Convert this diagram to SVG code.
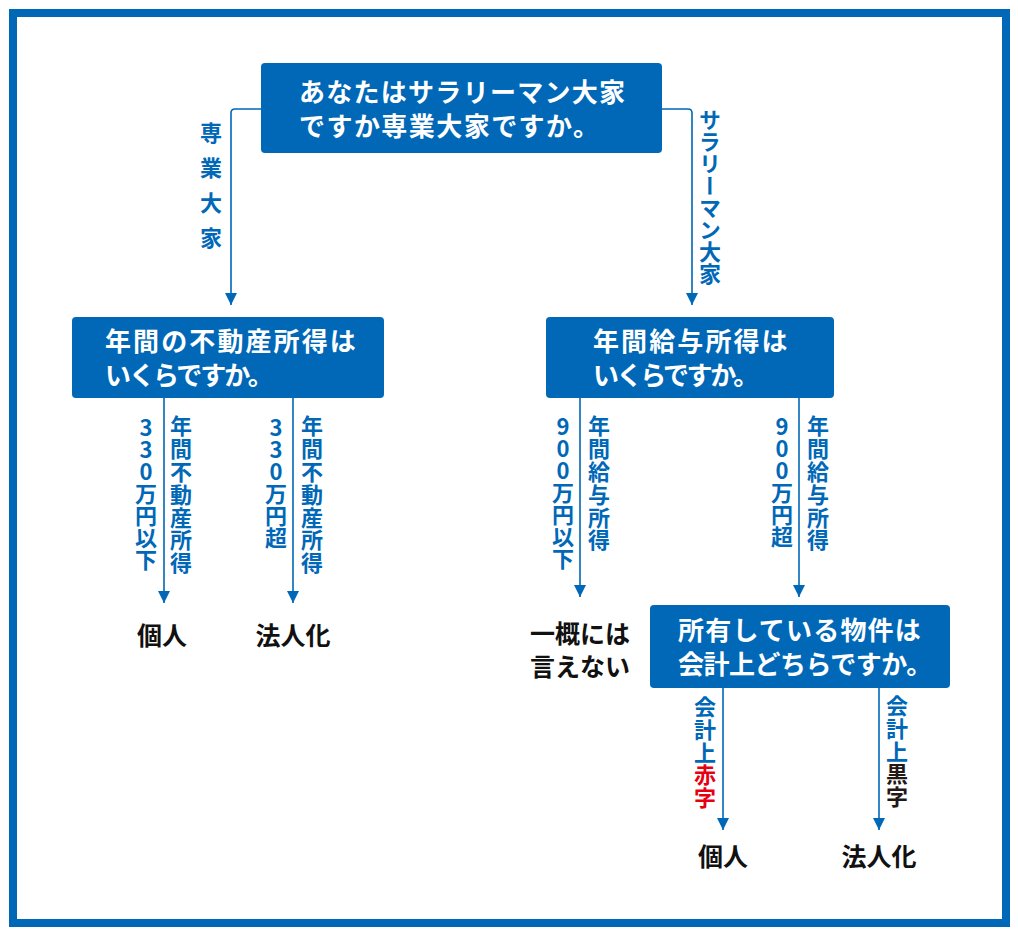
<svg xmlns="http://www.w3.org/2000/svg" width="1018" height="935" viewBox="0 0 1018 935">
<style>
.frame{fill:none;stroke:#0068b7;stroke-width:8}
.box{fill:#0068b7}
.bt{font-family:"Noto Sans CJK JP","Noto Sans CJK SC",sans-serif;font-weight:700;font-size:26px;fill:#ffffff}
.leaf{font-family:"Noto Sans CJK JP","Noto Sans CJK SC",sans-serif;font-weight:700;font-size:25px;fill:#111111;text-anchor:middle}
.lbl{font-family:"Noto Sans CJK JP","Noto Sans CJK SC",sans-serif;font-weight:700;font-size:22px;fill:#0068b7;writing-mode:vertical-rl;text-orientation:upright;letter-spacing:0.8px}
.conn{fill:none;stroke:#0068b7;stroke-width:1.6}
</style>
<defs>
<marker id="arr" viewBox="0 0 12 12" refX="12" refY="6" markerWidth="12" markerHeight="12" markerUnits="userSpaceOnUse" orient="auto">
<path d="M0,0 L12,6 L0,12 z" fill="#0068b7"/>
</marker>
</defs>
<rect x="0" y="0" width="1018" height="935" fill="#ffffff"/>
<rect class="frame" x="13" y="13" width="993" height="910"/>

<g id="connectors">
<path class="conn" d="M261,109 H235 Q231,109 231,113 V305" marker-end="url(#arr)"/>
<path class="conn" d="M662,109 H688 Q692,109 692,113 V305" marker-end="url(#arr)"/>
<path class="conn" d="M164,398 V603" marker-end="url(#arr)"/>
<path class="conn" d="M293,398 V603" marker-end="url(#arr)"/>
<path class="conn" d="M580,398 V597" marker-end="url(#arr)"/>
<path class="conn" d="M799,398 V597" marker-end="url(#arr)"/>
<path class="conn" d="M723,688 V830" marker-end="url(#arr)"/>
<path class="conn" d="M879,688 V830" marker-end="url(#arr)"/>
<text class="lbl" x="211" y="122" style="letter-spacing:13px">専業大家</text>
<text class="lbl" x="710" y="109" style="letter-spacing:0px">サラリーマン大家</text>
<text class="lbl" x="146" y="417" style="letter-spacing:0px">330万円以下</text>
<text class="lbl" x="181" y="415">年間不動産所得</text>
<text class="lbl" x="276" y="417" style="letter-spacing:0px">330万円超</text>
<text class="lbl" x="312" y="415">年間不動産所得</text>
<text class="lbl" x="563" y="416" style="letter-spacing:0px">900万円以下</text>
<text class="lbl" x="599" y="415">年間給与所得</text>
<text class="lbl" x="782" y="416" style="letter-spacing:0px">900万円超</text>
<text class="lbl" x="818" y="415">年間給与所得</text>
<text class="lbl" x="705" y="696">会計上<tspan fill="#e60012">赤字</tspan></text>
<text class="lbl" x="897" y="695">会計上<tspan fill="#231815">黒字</tspan></text>
</g>

<g id="q1">
<rect class="box" x="261" y="63" width="401" height="90" rx="4"/>
<text class="bt" x="299" y="102" textLength="326" lengthAdjust="spacing">あなたはサラリーマン大家</text>
<text class="bt" x="299" y="136" textLength="300" lengthAdjust="spacing">ですか専業大家ですか。</text>
</g>

<g id="q2">
<rect class="box" x="72" y="317" width="312" height="81" rx="4"/>
<text class="bt" x="105" y="351" style="letter-spacing:2.1px">年間の不動産所得は</text>
<text class="bt" x="105" y="385" style="letter-spacing:-2px">いくらですか。</text>
</g>

<g id="q3">
<rect class="box" x="546" y="317" width="288" height="81" rx="4"/>
<text class="bt" x="593" y="351" style="letter-spacing:2.1px">年間給与所得は</text>
<text class="bt" x="593" y="385" style="letter-spacing:-2.4px">いくらですか。</text>
</g>

<g id="q4">
<rect class="box" x="650" y="605" width="300" height="83" rx="4"/>
<text class="bt" x="678" y="640" style="letter-spacing:1.2px">所有している物件は</text>
<text class="bt" x="678" y="674" style="letter-spacing:-0.5px">会計上どちらですか。</text>
</g>

<g id="leaf1"><text class="leaf" x="162" y="645">個人</text></g>
<g id="leaf2"><text class="leaf" x="293" y="645">法人化</text></g>
<g id="leaf3">
<text class="leaf" x="580" y="643">一概には</text>
<text class="leaf" x="580" y="676">言えない</text>
</g>
<g id="leaf4"><text class="leaf" x="723" y="866">個人</text></g>
<g id="leaf5"><text class="leaf" x="879" y="866">法人化</text></g>
</svg>
